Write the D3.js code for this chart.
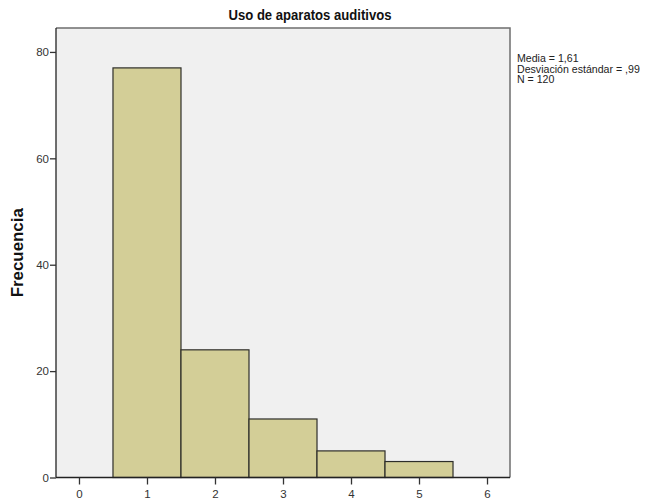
<!DOCTYPE html>
<html>
<head>
<meta charset="utf-8">
<script src="https://cdn.jsdelivr.net/npm/d3@7"></script>
<style>
  body { margin: 0; background: #ffffff; }
  svg { display: block; font-family: Arial, "Liberation Sans", sans-serif; }
</style>
</head>
<body>
<svg id="chart" width="660" height="503"></svg>
<script>
// Histogram of hearing-aid usage (bins centered on integer values)
const binCenters = [1, 2, 3, 4, 5];
const frequencies = [77, 24, 11, 5, 3];
const xTicks = [0, 1, 2, 3, 4, 5, 6];
const yTicks = [0, 20, 40, 60, 80];
const statsLines = ["Media = 1,61", "Desviación estándar = ,99", "N = 120"];
const titleText = "Uso de aparatos auditivos";
const yLabel = "Frecuencia";

const svg = d3.select("#chart");
const plot = { left: 56, right: 510, top: 28, bottom: 477.5 };

const x = d3.scaleLinear().domain([-0.338, 6.338]).range([plot.left, plot.right]);
const y = d3.scaleLinear().domain([0, 84.5]).range([plot.bottom, plot.top]);

// Plot background
svg.append("rect")
  .attr("x", plot.left).attr("y", plot.top)
  .attr("width", plot.right - plot.left).attr("height", plot.bottom - plot.top)
  .attr("fill", "#f0f0f0");

// Bars
svg.append("g").selectAll("rect")
  .data(binCenters.map((c, i) => ({ c, f: frequencies[i] })))
  .join("rect")
  .attr("x", d => x(d.c - 0.5))
  .attr("y", d => y(d.f))
  .attr("width", d => x(d.c + 0.5) - x(d.c - 0.5))
  .attr("height", d => y(0) - y(d.f))
  .attr("fill", "#d3ce97")
  .attr("stroke", "#2e2e2a")
  .attr("stroke-width", 1.2);

// Frame: top and right edges
svg.append("path")
  .attr("d", `M${plot.left},${plot.top}H${plot.right}V${plot.bottom}`)
  .attr("fill", "none").attr("stroke", "#6e6e6e").attr("stroke-width", 1.5);

// Axes
const xAxis = svg.append("g")
  .attr("transform", `translate(0,${plot.bottom})`)
  .call(d3.axisBottom(x).tickValues(xTicks).tickSize(7).tickPadding(5).tickFormat(d3.format("d")));
const yAxis = svg.append("g")
  .attr("transform", `translate(${plot.left},0)`)
  .call(d3.axisLeft(y).tickValues(yTicks).tickSize(6).tickPadding(1).tickFormat(d3.format("d")));

[xAxis, yAxis].forEach(g => {
  g.select(".domain").attr("stroke", "#222").attr("stroke-width", 1.3);
  g.selectAll(".tick line").attr("stroke", "#333").attr("stroke-width", 1.3);
  g.selectAll(".tick text").attr("fill", "#333").style("font-size", "11.5px")
    .style("font-family", "Arial, 'Liberation Sans', sans-serif");
});
xAxis.select(".domain").attr("d", `M${plot.left},0H${plot.right}`);
yAxis.select(".domain").attr("d", `M0,${plot.top}V${plot.bottom}`);

// Title, centred over the whole figure (slightly condensed)
svg.append("text")
  .attr("x", 310).attr("y", 19.5)
  .attr("text-anchor", "middle")
  .attr("textLength", 163).attr("lengthAdjust", "spacingAndGlyphs")
  .style("font-size", "15px").style("font-weight", "bold").attr("fill", "#111")
  .text(titleText);

// Y axis label
svg.append("text")
  .attr("transform", `translate(22.5,${(plot.top + plot.bottom) / 2}) rotate(-90)`)
  .attr("text-anchor", "middle")
  .attr("textLength", 89).attr("lengthAdjust", "spacingAndGlyphs")
  .style("font-size", "16px").style("font-weight", "bold").attr("fill", "#111")
  .text(yLabel);

// Summary statistics
svg.append("g").selectAll("text")
  .data(statsLines)
  .join("text")
  .attr("x", 517).attr("y", (d, i) => 62 + i * 10.7)
  .style("font-size", "10.6px").attr("fill", "#222")
  .text(d => d);
</script>
</body>
</html>
